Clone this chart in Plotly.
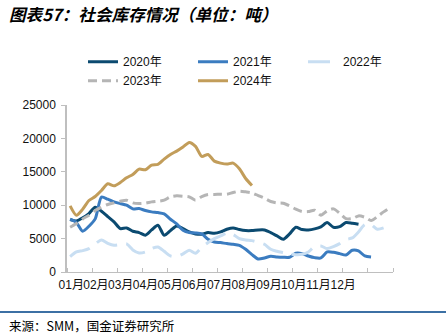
import plotly.graph_objects as go

# ---- data (weekly) ----
months = ["01月", "02月", "03月", "04月", "05月", "06月",
          "07月", "08月", "09月", "10月", "11月", "12月"]

y2020 = [7850, 7650, 8100, 8750, 9700, 9100, 8300, 7500, 6500, 6600,
         6100, 5900, 5500, 6300, 7000, 5500, 6200, 6900, 6500, 6000,
         5700, 5650, 5900, 5800, 6000, 6400, 6600, 6350, 6200, 6200,
         6300, 6300, 5900, 5400, 4900, 5700, 6700, 6350, 6300, 6450,
         6750, 7400, 6700, 6800, 7400, 7300, 7150]
y2021 = [7900, 7400, 6100, 6850, 7950, 11200, 10900, 10500, 10250, 10000,
         9450, 9500, 9200, 9000, 8900, 8700, 7900, 7200, 6250, 5900,
         5850, 5700, 4900, 4500, 4400, 4250, 4150, 4000, 3400, 2600,
         1950, 2100, 2350, 2250, 2200, 2200, 2800, 2750, 2400, 2150,
         2100, 3000, 2950, 2750, 2550, 3250, 3150, 2400, 2250]
y2022 = [2300, 3000, 3200, 3500, 4200, 4800, 4300, 4000, 4100, 4200,
         3300, 2850, 3000, 3500, 3750, 3100, 2400, 2300, 2700, 3250,
         2800, 3700, 4400, 5000, 5400, 5800, 5600, 5000, 4800, 4700,
         4450, 4150, 3400, 3100, 2900, 2700, 2600, 2650, 3000, 3800,
         3900, 3500, 3800, 4250, 4850, 5100, 6000, 7100, 7100, 6400,
         6600]
y2023 = [6700, 7250, 7950, 8500, 9200, 9700, 10100, 10350, 10600, 10750,
         10350, 10250, 10300, 10500, 10600, 10750, 11250, 11400, 11350, 11250,
         10750, 11300, 11600, 11600, 11650, 11650, 11900, 12100, 12000, 11850,
         11450, 11050, 10550, 10350, 10300, 9900, 9400, 9050, 9050, 9250,
         8500, 9150, 9450, 8800, 8000, 8000, 8400, 8200, 7700, 8300,
         9000, 9600]
y2024 = [9900, 8500, 9400, 10700, 11300, 12200, 13200, 12900, 13400, 14100,
         14600, 15400, 15300, 16000, 16100, 16900, 17600, 18100, 18700, 19400,
         18800, 17300, 17600, 16600, 16300, 16150, 16300, 15450, 14000, 12950]

names = ["2020年", "2021年", "2022年", "2023年", "2024年"]
values = [y2020, y2021, y2022, y2023, y2024]

# ---- styles ----
colors = ["#0b4a70", "#3b7cc0", "#c8def2", "#b5b5b5", "#c29d5a"]
dashes = ["solid", "solid", "22px,9px", "9px,5px", "solid"]

FONT = "Liberation Sans, Arial, Noto Sans CJK SC, sans-serif"
CJK = "Noto Sans CJK SC, sans-serif"
AXIS = "#bfbfbf"

fig = go.Figure()
for name, vals, col, dash in zip(names, values, colors, dashes):
    fig.add_trace(go.Scatter(
        x=list(range(1, len(vals) + 1)), y=vals, name=name, mode="lines",
        line=dict(color=col, width=3, dash=dash, shape="spline", smoothing=0.7),
        hoverinfo="skip"))

n_weeks = 52
label_pos = [1.17 + 3.944 * k for k in range(len(months))]
boundaries = [0.5 + 4 * k for k in range(n_weeks // 4 + 1)]

fig.update_layout(
    width=446, height=335, autosize=False,
    margin=dict(l=67, r=53, t=105, b=63),
    paper_bgcolor="white", plot_bgcolor="white",
    font=dict(family=FONT, size=12, color="#111111"),
    title=dict(text="图表57：社会库存情况（单位：吨）",
               x=9 / 446, xanchor="left", y=1 - 15 / 335, yanchor="middle",
               font=dict(family=CJK, size=16.6, color="#000000",
                         weight="bold", style="italic")),
    showlegend=True,
    legend=dict(orientation="h", x=16 / 326, xanchor="left",
                y=1.346, yanchor="top", entrywidth=65, entrywidthmode="pixels",
                font=dict(family=FONT, size=12, color="#111111"),
                bgcolor="rgba(0,0,0,0)", traceorder="normal"),
    xaxis=dict(range=[0.5, n_weeks + 0.5], tickmode="array",
               tickvals=label_pos, ticktext=months, ticks="", tickangle=0,
               showline=True, linecolor=AXIS, linewidth=1,
               showgrid=False, zeroline=False, ticklabelstandoff=2,
               minor=dict(tickmode="array", tickvals=boundaries, ticks="inside",
                          ticklen=4, tickcolor=AXIS, tickwidth=1, showgrid=False)),
    yaxis=dict(range=[0, 25000], tickmode="linear", tick0=0, dtick=5000,
               tickformat="d", ticks="outside", ticklen=4, tickcolor=AXIS,
               showline=True, linecolor=AXIS, linewidth=1.5,
               showgrid=False, zeroline=False, ticklabelstandoff=3),
)

# bottom rule and source note
fig.add_shape(type="line", xref="paper", yref="paper",
              x0=-67 / 326, x1=(446 - 67) / 326,
              y0=(272 - 312) / 167, y1=(272 - 312) / 167,
              line=dict(color="#3c70a4", width=2))
fig.add_annotation(text="来源：SMM，国金证券研究所", xref="paper", yref="paper",
                   x=(7 - 67) / 326, y=(272 - 325) / 167,
                   xanchor="left", yanchor="middle", showarrow=False,
                   font=dict(family=CJK, size=12.5, color="#000000"))

fig.write_html("out.html")
